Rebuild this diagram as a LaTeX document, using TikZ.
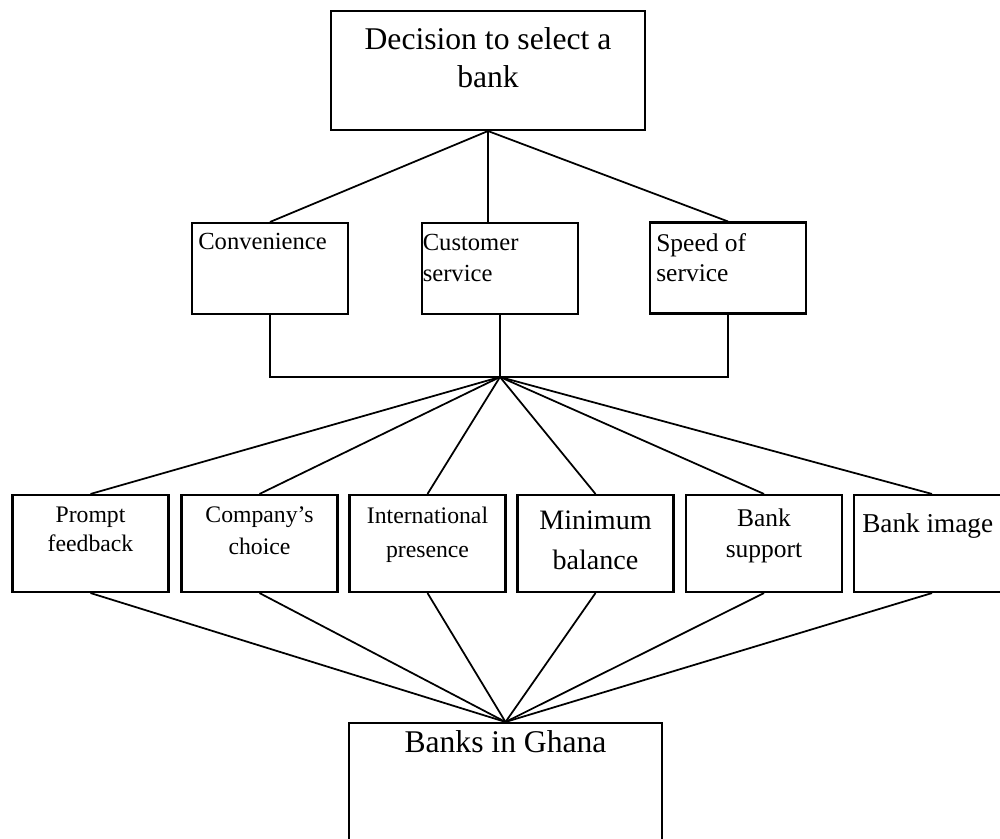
\documentclass[tikz,border=0pt]{standalone}
\usepackage{fontspec}
\setmainfont{Liberation Serif}
\newcommand{\fsz}[2]{\fontsize{#1}{#2}\selectfont}

\begin{document}
\begin{tikzpicture}[x=0.02cm, y=-0.02cm,
    box/.style={draw, line width=1.2pt, inner sep=0pt},
    small/.style={box, minimum width=3.12cm, minimum height=1.82cm},
    crit/.style={box, minimum width=3.12cm, minimum height=1.94cm},
    lbl/.style={anchor=north, align=center, inner sep=0pt},
    lblw/.style={anchor=north west, align=left, inner sep=0pt},
    link/.style={line width=1pt}]
    \useasboundingbox (0,0) rectangle (1000,838);
    \clip (0,0) rectangle (1000,838);

    \node[box, minimum width=6.28cm, minimum height=2.38cm,
        label={[lbl, yshift=-0.35cm, font=\fsz{18}{21.5}]north:{Decision to select a\\bank}}] (decision) at (488,70.5) {};

    \node[small, label={[lblw, xshift=0.14cm, yshift=-0.22cm, font=\fsz{14}{17.6}]north west:Convenience}] (conv) at (270,268.5) {};
    \node[small, label={[lblw, xshift=0.03cm, yshift=-0.24cm, font=\fsz{14}{17.6}]north west:{Customer\\service}}] (cust) at (500,268.5) {};
    \node[small, label={[lblw, xshift=0.14cm, yshift=-0.23cm, font=\fsz{14.5}{17}]north west:{Speed of\\service}}] (speed) at (728,268) {};

    \coordinate (hub) at (500,377);

    \node[crit, label={[lbl, yshift=-0.25cm, font=\fsz{13.5}{16.5}]north:{Prompt\\feedback}}] (prompt) at (90.5,543.5) {};
    \node[crit, label={[lbl, yshift=-0.25cm, font=\fsz{13.5}{18}]north:{Company's\\choice}}] (choice) at (259.5,543.5) {};
    \node[crit, label={[lbl, yshift=-0.25cm, font=\fsz{13.5}{19.5}]north:{International\\presence}}] (intl) at (427.5,543.5) {};
    \node[crit, label={[lbl, yshift=-0.33cm, font=\fsz{16}{22.7}]north:{Minimum\\balance}}] (minbal) at (595.5,543.5) {};
    \node[crit, label={[lbl, yshift=-0.29cm, font=\fsz{14.5}{17.6}]north:{Bank\\support}}] (support) at (764,543.5) {};
    \node[crit, label={[lblw, xshift=0.18cm, yshift=-0.39cm, font=\fsz{15.5}{18}]north west:Bank image}] (image) at (932,543.5) {};

    \node[box, minimum width=6.26cm, minimum height=2.74cm,
        label={[lbl, yshift=-0.17cm, font=\fsz{18}{21}]north:Banks in Ghana}] (ghana) at (505.5,791.5) {};

    % top level
    \draw[link] (decision.south) -- (conv.north);
    \draw[link] (decision.south) -- (decision.south |- cust.north);
    \draw[link] (decision.south) -- (speed.north);

    % bracket
    \draw[link] (conv.south) |- (hub) -| (speed.south);
    \draw[link] (cust.south) -- (hub);

    \foreach \n in {prompt,choice,intl,minbal,support,image}
        \draw[link] (hub) -- (\n.north);
    \foreach \n in {prompt,choice,intl,minbal,support,image}
        \draw[link] (\n.south) -- (ghana.north);
\end{tikzpicture}
\end{document}
